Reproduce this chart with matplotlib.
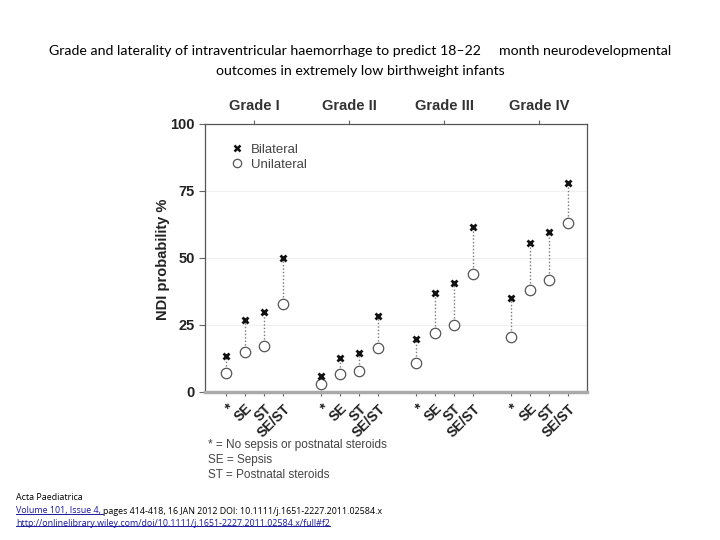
import numpy as np
import matplotlib
matplotlib.use("Agg")
import matplotlib.pyplot as plt
from matplotlib.lines import Line2D

# data
grades = ["Grade I", "Grade II", "Grade III", "Grade IV"]
subgroups = ["*", "SE", "ST", "SE/ST"]
bilateral = [13.4, 26.6, 29.9, 50.0,
             5.9, 12.7, 14.3, 28.2,
             19.7, 36.7, 40.4, 61.6,
             34.8, 55.6, 59.6, 77.8]
unilateral = [7.0, 14.9, 17.0, 32.7,
              3.0, 6.5, 7.6, 16.2,
              10.8, 22.0, 24.9, 43.8,
              20.5, 37.9, 41.7, 62.8]
yticks = [0, 25, 50, 75, 100]

title = ("Grade and laterality of intraventricular haemorrhage to predict 18\u201322     month neurodevelopmental\n"
         "outcomes in extremely low birthweight infants")
notes = ["* = No sepsis or postnatal steroids", "SE = Sepsis", "ST = Postnatal steroids"]

# x positions: 4 points per grade, gap of one slot between grades
xpos = []
for g in range(len(grades)):
    for s in range(len(subgroups)):
        xpos.append(g * 5 + s)
xpos = np.array(xpos)
group_centers = [g * 5 + 1.5 for g in range(len(grades))]

fig = plt.figure(figsize=(7.2, 5.4), dpi=100)
ax = fig.add_axes([0.2847, 0.2746, 0.530, 0.4963])

arial = ["Liberation Sans", "DejaVu Sans"]

# dotted connectors
for x, b, u in zip(xpos, bilateral, unilateral):
    ax.plot([x, x], [u, b], linestyle=(0, (1, 1.5)), color="#777777", lw=1.0, zorder=1)

ax.plot(xpos, unilateral, linestyle="none", marker="o", ms=7.5, mfc="white",
        mec="#555555", mew=0.9, zorder=3)
ax.plot(xpos, bilateral, linestyle="none", marker="x", ms=5, mec="#111111",
        mew=2.0, zorder=3)

ax.set_xlim(-1.1, 19.0)
ax.set_ylim(0, 100)
ax.set_yticks(yticks)
ax.set_yticklabels([str(v) for v in yticks], family=arial, fontweight="bold",
                   fontsize=10.5, color="#222222")
for v in [25, 50, 75]:
    ax.axhline(v, color="#f0f0f0", lw=0.8, zorder=0)

ax.set_xticks(xpos)
ax.set_xticklabels(subgroups * len(grades), rotation=45, ha="right",
                   rotation_mode="anchor", family=arial, fontweight="bold",
                   fontsize=10, color="#222222")
ax.tick_params(axis="x", length=3, color="#666666", pad=4)
ax.tick_params(axis="y", length=4, color="#666666")

top = ax.secondary_xaxis("top")
top.set_xticks(group_centers)
top.set_xticklabels(grades, family=arial, fontweight="bold", fontsize=10.5, color="#333333")
top.tick_params(length=3, color="#666666", pad=5)
top.spines["top"].set_visible(False)

for side in ["top", "right", "left"]:
    ax.spines[side].set_color("#555555")
    ax.spines[side].set_linewidth(0.9)
ax.spines["bottom"].set_color("#aaaaaa")
ax.spines["bottom"].set_linewidth(2.5)

ax.set_ylabel("NDI probability %", family=arial, fontweight="bold", fontsize=10.5,
              color="#222222")
ax.yaxis.set_label_coords(-0.092, 0.495)

# legend
handles = [Line2D([0], [0], linestyle="none", marker="x", ms=4.5, mec="#111111", mew=1.8),
           Line2D([0], [0], linestyle="none", marker="o", ms=6, mfc="white", mec="#555555", mew=0.9)]
leg = ax.legend(handles, ["Bilateral", "Unilateral"], loc="upper left",
                bbox_to_anchor=(0.04, 0.97), frameon=False, handlelength=0.8,
                handletextpad=0.6, labelspacing=0.2, prop={"family": arial, "size": 9.5})
for t in leg.get_texts():
    t.set_color("#444444")

# title
fig.text(0.5, 1 - 61 / 540, title, ha="center", va="center", family=["Lato", "DejaVu Sans"],
         fontsize=10.2, linespacing=1.8)

# notes under the axes
for i, line in enumerate(notes):
    fig.text(0.289, 1 - (445 + i * 15) / 540, line, ha="left", va="center",
             family=arial, fontsize=8.5, color="#444444")

# source footnote
foot_font = dict(family=["Open Sans", "DejaVu Sans"], fontsize=6.4)
fig.text(0.022, 1 - 497 / 540, "Acta Paediatrica", ha="left", va="center", **foot_font)
link1 = fig.text(0.022, 1 - 511 / 540, "Volume 101, Issue 4, ", ha="left", va="center",
                 color="#1a1aa0", **foot_font)
url = fig.text(0.022, 1 - 523 / 540,
               "http://onlinelibrary.wiley.com/doi/10.1111/j.1651-2227.2011.02584.x/full#f2",
               ha="left", va="center", color="#1a1aa0", **foot_font)

fig.canvas.draw()
r = fig.canvas.get_renderer()
inv = fig.transFigure.inverted()
bb1 = link1.get_window_extent(r).transformed(inv)
fig.text(bb1.x1, 1 - 511 / 540,
         "pages 414-418, 16 JAN 2012 DOI: 10.1111/j.1651-2227.2011.02584.x",
         ha="left", va="center", **foot_font)
for t in [link1, url]:
    bb = t.get_window_extent(r).transformed(inv)
    fig.add_artist(Line2D([bb.x0, bb.x1], [bb.y0 + 0.002, bb.y0 + 0.002],
                          transform=fig.transFigure, color="#1a1aa0", lw=0.7))

fig.savefig("out.png", dpi=100)
